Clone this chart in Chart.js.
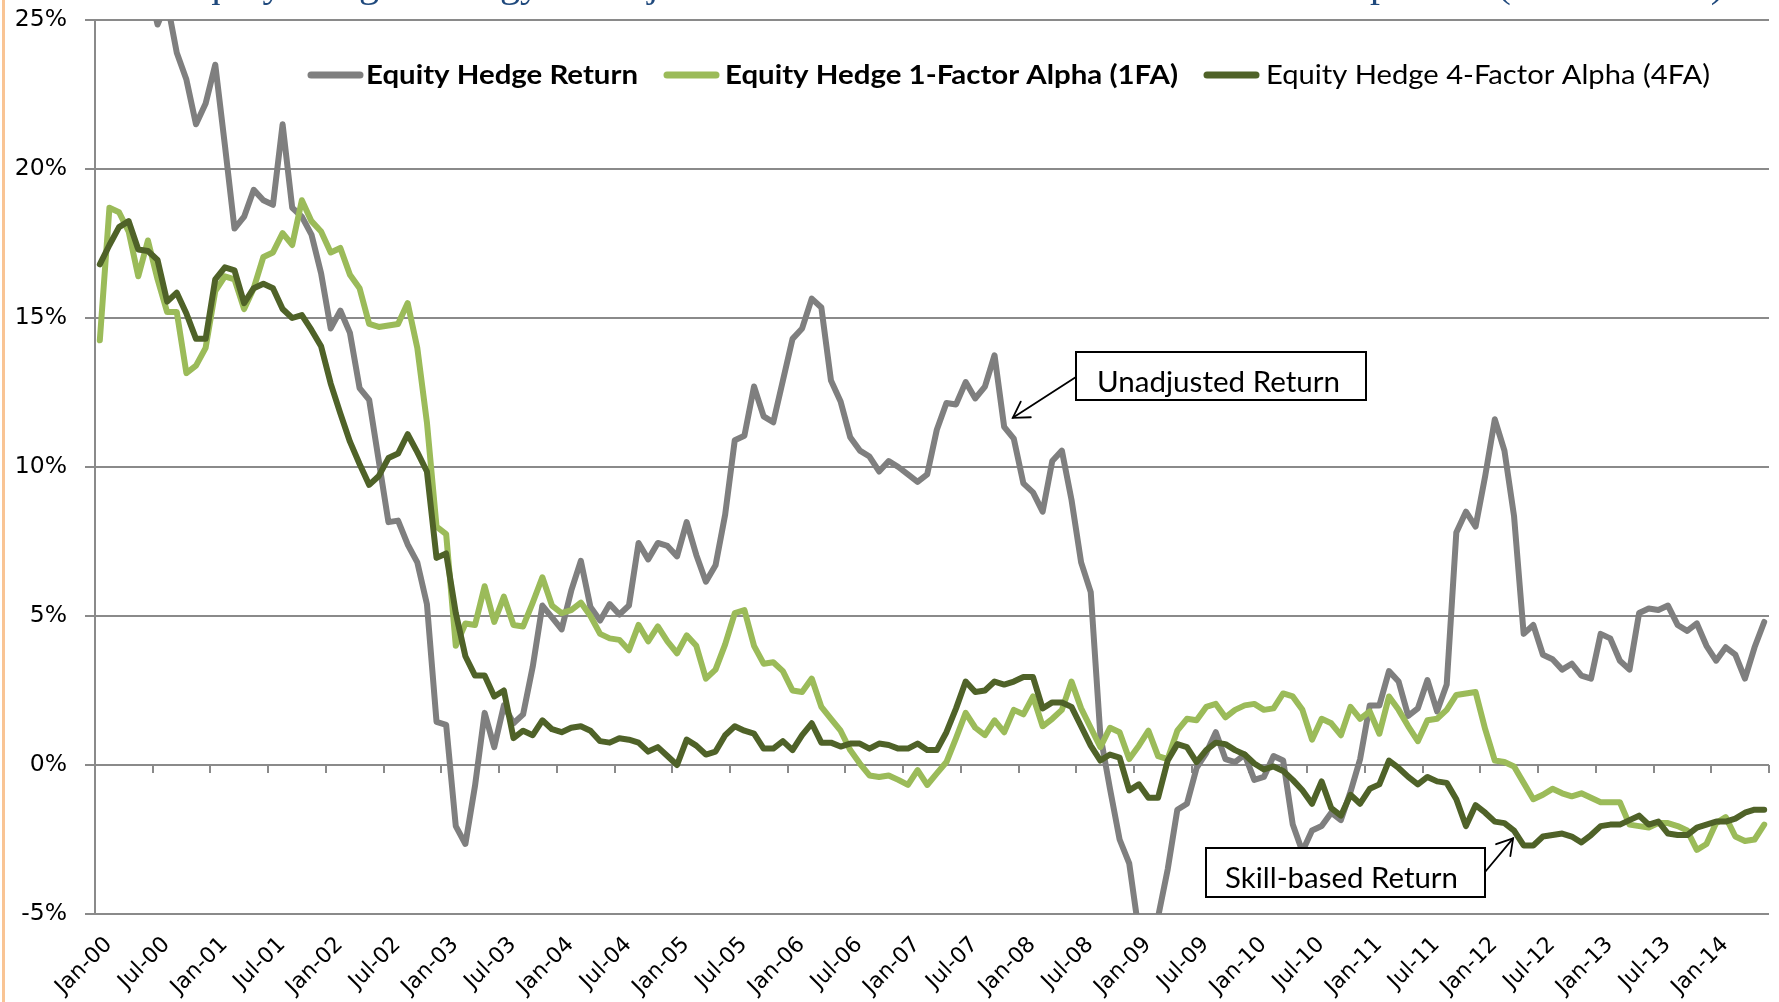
<!DOCTYPE html>
<html><head><meta charset="utf-8">
<script src="https://cdn.jsdelivr.net/npm/chart.js@4/dist/chart.umd.min.js"></script>
<style>
html,body{margin:0;padding:0;background:#fff;}
#wrap{position:relative;width:1779px;height:1002px;overflow:hidden;background:#fff;}
#edge{position:absolute;left:2px;top:0;width:3px;height:1002px;background:#f9c494;}
canvas{position:absolute;left:0;top:0;}
</style></head><body>
<div id="wrap"><canvas id="c" width="1779" height="1002"></canvas><div id="edge"></div></div>
<script>
// ---- categories (monthly, Jan-2000 .. Jun-2014) ----
const monthNames = ['Jan','Feb','Mar','Apr','May','Jun','Jul','Aug','Sep','Oct','Nov','Dec'];
const yearCodes = ['00','01','02','03','04','05','06','07','08','09','10','11','12','13','14'];
const categories = [];
yearCodes.forEach((yy, yi) => {
  monthNames.forEach((m, mi) => {
    if (yi === 14 && mi > 5) return;
    categories.push(m + '-' + yy);
  });
});

// ---- tick labels ----
const xTickLabels = ['Jan-00','Jul-00','Jan-01','Jul-01','Jan-02','Jul-02','Jan-03','Jul-03','Jan-04','Jul-04',
  'Jan-05','Jul-05','Jan-06','Jul-06','Jan-07','Jul-07','Jan-08','Jul-08','Jan-09','Jul-09','Jan-10','Jul-10',
  'Jan-11','Jul-11','Jan-12','Jul-12','Jan-13','Jul-13','Jan-14'];
const yTickValues = [-5, 0, 5, 10, 15, 20, 25];

// ---- series values (%) ----
const equityHedgeReturn = [
  27.5, 28.6, 29.2, 28.0, 27.0, 26.2, 24.85, 25.6, 23.9, 23.0, 21.5, 22.2,
  23.5, 20.8, 18.0, 18.4, 19.3, 18.95, 18.8, 21.5, 18.7, 18.4, 17.8, 16.5,
  14.65, 15.25, 14.5, 12.65, 12.25, 10.2, 8.15, 8.2, 7.4, 6.8, 5.4, 1.45,
  1.35, -2.05, -2.65, -0.7, 1.75, 0.6, 2.0, 1.4, 1.7, 3.3, 5.35, 4.95,
  4.55, 5.85, 6.85, 5.3, 4.85, 5.4, 5.05, 5.35, 7.45, 6.9, 7.45, 7.35,
  7.0, 8.15, 7.05, 6.15, 6.7, 8.4, 10.9, 11.05, 12.7, 11.7, 11.5, 12.9,
  14.3, 14.65, 15.65, 15.35, 12.9, 12.2, 11.0, 10.55, 10.35, 9.85, 10.2, 10.0,
  9.75, 9.5, 9.75, 11.25, 12.15, 12.1, 12.85, 12.3, 12.7, 13.75, 11.35, 10.95,
  9.45, 9.15, 8.5, 10.2, 10.55, 8.9, 6.8, 5.8, 1.0, -0.8, -2.5, -3.3,
  -5.6, -6.3, -5.1, -3.5, -1.5, -1.3, -0.1, 0.4, 1.1, 0.2, 0.1, 0.35,
  -0.5, -0.4, 0.3, 0.15, -2.0, -2.9, -2.2, -2.05, -1.6, -1.85, -0.9, 0.2,
  2.0, 2.0, 3.15, 2.8, 1.65, 1.9, 2.85, 1.8, 2.7, 7.8, 8.5, 8.0,
  9.7, 11.6, 10.55, 8.35, 4.4, 4.7, 3.7, 3.55, 3.2, 3.4, 3.0, 2.9,
  4.4, 4.25, 3.5, 3.2, 5.1, 5.25, 5.2, 5.35, 4.7, 4.5, 4.75, 4.0,
  3.5, 3.95, 3.7, 2.9, 3.95, 4.8
];
const alpha1FA = [
  14.25, 18.7, 18.55, 17.9, 16.4, 17.6, 16.3, 15.2, 15.2, 13.15, 13.4, 14.0,
  15.9, 16.4, 16.3, 15.3, 16.0, 17.05, 17.2, 17.85, 17.45, 18.95, 18.25, 17.9,
  17.2, 17.35, 16.45, 16.0, 14.8, 14.7, 14.75, 14.8, 15.5, 14.0, 11.5, 8.0,
  7.75, 4.0, 4.75, 4.7, 6.0, 4.8, 5.65, 4.7, 4.65, 5.45, 6.3, 5.35,
  5.1, 5.2, 5.45, 5.0, 4.4, 4.25, 4.2, 3.85, 4.7, 4.15, 4.65, 4.15,
  3.75, 4.35, 4.0, 2.9, 3.2, 4.05, 5.1, 5.2, 4.0, 3.4, 3.45, 3.15,
  2.5, 2.45, 2.9, 1.95, 1.55, 1.15, 0.5, 0.05, -0.35, -0.4, -0.35, -0.5,
  -0.67, -0.17, -0.67, -0.28, 0.1, 0.9, 1.75, 1.25, 1.0, 1.5, 1.1, 1.85,
  1.7, 2.3, 1.3, 1.55, 1.85, 2.8, 1.9, 1.25, 0.6, 1.25, 1.1, 0.2,
  0.65, 1.15, 0.3, 0.2, 1.15, 1.55, 1.5, 1.95, 2.05, 1.6, 1.85, 2.0,
  2.05, 1.85, 1.9, 2.4, 2.3, 1.85, 0.85, 1.55, 1.4, 1.0, 1.95, 1.55,
  1.8, 1.05, 2.3, 1.85, 1.3, 0.8, 1.5, 1.55, 1.85, 2.35, 2.4, 2.45,
  1.2, 0.15, 0.1, -0.05, -0.6, -1.15, -1.0, -0.8, -0.95, -1.05, -0.95, -1.1,
  -1.25, -1.25, -1.25, -2.0, -2.05, -2.1, -1.95, -1.95, -2.05, -2.2, -2.85, -2.65,
  -1.95, -1.75, -2.4, -2.55, -2.5, -2.0
];
const alpha4FA = [
  16.8, 17.45, 18.05, 18.25, 17.3, 17.25, 16.95, 15.55, 15.85, 15.15, 14.3, 14.3,
  16.3, 16.7, 16.6, 15.5, 16.0, 16.15, 16.0, 15.3, 15.0, 15.1, 14.6, 14.05,
  12.8, 11.8, 10.85, 10.1, 9.4, 9.7, 10.3, 10.45, 11.1, 10.5, 9.85, 6.95,
  7.1, 5.1, 3.65, 3.0, 3.0, 2.3, 2.5, 0.9, 1.15, 1.0, 1.5, 1.2,
  1.1, 1.25, 1.3, 1.15, 0.8, 0.75, 0.9, 0.85, 0.75, 0.45, 0.6, 0.3,
  0.0, 0.85, 0.65, 0.35, 0.45, 1.0, 1.3, 1.15, 1.05, 0.55, 0.55, 0.8,
  0.5, 1.0, 1.4, 0.75, 0.75, 0.62, 0.72, 0.72, 0.55, 0.72, 0.67, 0.55,
  0.55, 0.72, 0.5, 0.5, 1.1, 1.9, 2.8, 2.45, 2.5, 2.8, 2.7, 2.8,
  2.95, 2.95, 1.9, 2.1, 2.1, 1.95, 1.3, 0.65, 0.15, 0.35, 0.25, -0.85,
  -0.65, -1.1, -1.1, 0.15, 0.7, 0.6, 0.1, 0.5, 0.75, 0.7, 0.5, 0.35,
  0.05, -0.15, -0.05, -0.2, -0.5, -0.85, -1.3, -0.55, -1.45, -1.7, -1.0, -1.3,
  -0.8, -0.65, 0.15, -0.1, -0.4, -0.65, -0.4, -0.55, -0.6, -1.15, -2.05, -1.35,
  -1.6, -1.9, -1.95, -2.2, -2.7, -2.7, -2.4, -2.35, -2.3, -2.4, -2.6, -2.35,
  -2.05, -2.0, -2.0, -1.85, -1.7, -2.0, -1.9, -2.3, -2.35, -2.35, -2.1, -2.0,
  -1.9, -1.9, -1.8, -1.6, -1.5, -1.5
];
const seriesNames = ['Equity Hedge Return', 'Equity Hedge 1-Factor Alpha (1FA)', 'Equity Hedge 4-Factor Alpha (4FA)'];

// ---- annotation anchors (in data units: category index, value) ----
const annotationTexts = ['Unadjusted Return', 'Skill-based Return'];
const annotationTips = [[94.9, 11.65], [146.9, -2.46]];

// ---- styling ----
const COLORS = ['#7f7f7f', '#9bbb59', '#4f6228'];
const GRID = '#8a8a8a';
const SANS = 'Lato, "Open Sans", sans-serif';

function fitText(ctx, text, x, y, w, font, color) {
  ctx.save();
  ctx.font = font; ctx.fillStyle = color;
  ctx.textAlign = 'left'; ctx.textBaseline = 'alphabetic';
  const m = ctx.measureText(text).width;
  ctx.translate(x, y); ctx.scale(w / m, 1);
  ctx.fillText(text, 0, 0);
  ctx.restore();
}

function arrow(ctx, x1, y1, x2, y2) {
  ctx.save();
  ctx.strokeStyle = '#000'; ctx.lineWidth = 1.8; ctx.lineCap = 'round';
  ctx.beginPath(); ctx.moveTo(x1, y1); ctx.lineTo(x2, y2); ctx.stroke();
  const ang = Math.atan2(y1 - y2, x1 - x2);
  const L = 18, a = 31 * Math.PI / 180;
  ctx.beginPath();
  ctx.moveTo(x2 + L * Math.cos(ang + a), y2 + L * Math.sin(ang + a));
  ctx.lineTo(x2, y2);
  ctx.lineTo(x2 + L * Math.cos(ang - a), y2 + L * Math.sin(ang - a));
  ctx.stroke();
  ctx.restore();
}

const zeroTicks = {
  id: 'zeroTicks',
  beforeDatasetsDraw(chart) {
    const { ctx, scales: { x, y } } = chart;
    const half = (x.getPixelForValue(1) - x.getPixelForValue(0)) / 2;
    const y0 = Math.round(y.getPixelForValue(0));
    ctx.save();
    ctx.strokeStyle = GRID; ctx.lineWidth = 2;
    ctx.beginPath();
    for (let k = 1; k <= categories.length / 6; k++) {
      const px = Math.round(x.getPixelForValue(6 * k) - half);
      ctx.moveTo(px, y0); ctx.lineTo(px, y0 + 8);
    }
    ctx.stroke();
    ctx.restore();
  }
};

const overlay = {
  id: 'overlay',
  afterDraw(chart) {
    const { ctx, scales: { x, y } } = chart;
    // title (mostly cut off by the top edge)
    fitText(ctx, 'Equity Hedge Strategy: Unadjusted Return versus Skill-based Return Comparison (2000 \u2013 2014)',
      176, -3, 1548, '38px "Liberation Serif", serif', '#1f497d');

    // legend
    const legend = [
      { sx: 311, tx: 366, tw: 272, bold: true },
      { sx: 667, tx: 725, tw: 453, bold: true },
      { sx: 1207, tx: 1266, tw: 444, bold: false }
    ];
    legend.forEach((it, i) => {
      ctx.save();
      ctx.strokeStyle = COLORS[i]; ctx.lineWidth = 7; ctx.lineCap = 'round';
      ctx.beginPath(); ctx.moveTo(it.sx, 75); ctx.lineTo(it.sx + 49, 75); ctx.stroke();
      ctx.restore();
      fitText(ctx, seriesNames[i], it.tx, 83.5, it.tw, (it.bold ? 'bold ' : '') + '26.5px ' + SANS, '#000');
    });

    // annotation boxes
    const boxes = [
      { x: 1076, y: 352, w: 290, h: 48, tx: 1097, ty: 392, tw: 243, tail: [1076, 377] },
      { x: 1206, y: 848, w: 279, h: 49, tx: 1225, ty: 888, tw: 233, tail: [1485, 872] }
    ];
    boxes.forEach((b, i) => {
      ctx.save();
      ctx.fillStyle = '#fff'; ctx.fillRect(b.x, b.y, b.w, b.h);
      ctx.strokeStyle = '#000'; ctx.lineWidth = 2; ctx.strokeRect(b.x, b.y, b.w, b.h);
      ctx.restore();
      fitText(ctx, annotationTexts[i], b.tx, b.ty, b.tw, '28px ' + SANS, '#000');
      const tx = x.getPixelForValue(annotationTips[i][0]);
      const ty = y.getPixelForValue(annotationTips[i][1]);
      arrow(ctx, b.tail[0], b.tail[1], tx, ty);
    });
  }
};

new Chart(document.getElementById('c').getContext('2d'), {
  type: 'line',
  data: {
    labels: categories,
    datasets: [
      { label: seriesNames[0], data: equityHedgeReturn, borderColor: COLORS[0], order: 3 },
      { label: seriesNames[1], data: alpha1FA, borderColor: COLORS[1], order: 2 },
      { label: seriesNames[2], data: alpha4FA, borderColor: COLORS[2], order: 1 }
    ].map(d => Object.assign(d, { borderWidth: 6, pointRadius: 0, tension: 0, fill: false, clip: 0,
      borderJoinStyle: 'round', borderCapStyle: 'round' }))
  },
  options: {
    responsive: false, animation: false, devicePixelRatio: 1,
    layout: { padding: { top: 20, right: 10, left: 0, bottom: 0 } },
    plugins: { legend: { display: false }, tooltip: { enabled: false }, title: { display: false } },
    scales: {
      x: {
        type: 'category', offset: true,
        grid: { display: false, drawTicks: false },
        border: { display: false },
        ticks: {
          autoSkip: false, maxRotation: 45, minRotation: 45, padding: 18, labelOffset: 9, color: '#000',
          font: { family: '"DejaVu Sans"', size: 22 },
          callback: (v, i) => (i % 6 === 0 ? xTickLabels[i / 6] : '')
        },
        afterFit: s => { s.height = 88; s.paddingLeft = 0; s.paddingRight = 0; }
      },
      y: {
        min: yTickValues[0], max: yTickValues[yTickValues.length - 1],
        afterBuildTicks: s => { s.ticks = yTickValues.map(v => ({ value: v })); },
        ticks: { color: '#000', padding: 18, font: { family: '"DejaVu Sans"', size: 23.5 }, callback: v => v + '%' },
        grid: { color: GRID, lineWidth: 2, tickLength: 10, drawTicks: true },
        border: { display: true, color: GRID, width: 2 },
        afterFit: s => { s.width = 95; s.paddingTop = 0; s.paddingBottom = 0; }
      }
    }
  },
  plugins: [zeroTicks, overlay]
});
</script>
</body></html>
